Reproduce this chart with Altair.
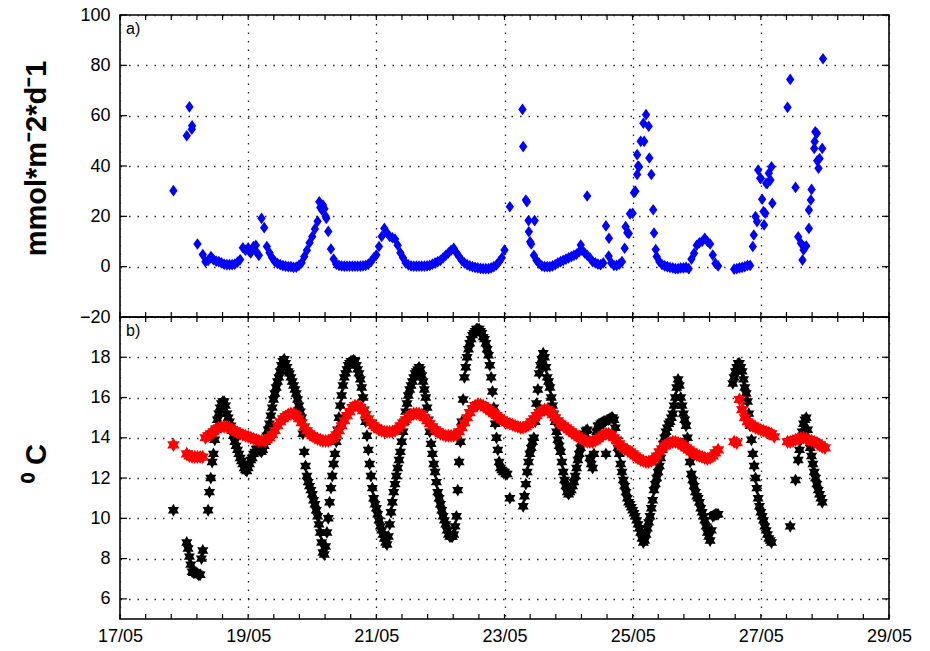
import altair as alt
import pandas as pd

# ---------------- data ----------------
# hourly samples start at 17/05 18:00; the half-hour rows start at 17/05 18:30
START_DAY = 17.75
STEP = 1.0 / 24.0

N = None
# a) flux, mmol m-2 d-1 (one value per hour, None = no sample)
blue_rows = [
    [N, N, 30.2, N, N, N],
    [N, 52.0, 63.5, 56.0, N, 9.0, N, 4.8, 2.0, 2.5, 3.5, 2.8, 2.2, 2.0, 1.5, 1.0, 0.8, 0.8, 0.8, 1.0, 1.8, 2.8, 7.5, 6.5],
    [7.5, 5.5, 8.0, 6.0, 4.5, 19.2, 15.5, 8.0, 5.5, 3.5, 2.0, 1.3, 0.8, 0.4, 0.2, 0.0, 0.0, -0.3, -0.2, 0.5, 1.5, 4.0, 6.5, 9.5],
    [12.0, 15.0, 18.0, 23.5, 24.5, 20.0, 14.0, 7.0, 3.0, 1.0, 0.5, 0.3, 0.2, 0.2, 0.2, 0.2, 0.2, 0.2, 0.2, 0.3, 0.5, 1.0, 2.0, 3.5],
    [4.6, 8.0, 12.0, 15.2, 13.5, 12.0, 11.5, 11.0, 8.5, 5.5, 3.5, 1.5, 0.7, 0.3, 0.2, 0.2, 0.2, 0.2, 0.2, 0.3, 0.5, 1.0, 1.5, 2.0],
    [2.5, 3.5, 4.5, 5.5, 6.5, 7.3, 5.5, 4.0, 2.5, 1.5, 0.8, 0.3, 0.0, -0.3, -0.5, -0.7, -0.8, -0.8, -0.8, -0.5, 0.0, 0.7, 2.0, 3.5],
    [6.6, N, 23.8, N, N, N, N, 47.7, 26.5, 18.3, 9.0, 4.5, 2.5, 1.3, 0.3, 0.0, 0.0, 0.0, 0.3, 0.8, 1.5, 2.0, 2.5, 3.0],
    [3.5, 4.0, 4.5, 5.0, 6.0, 6.5, 5.5, 4.5, 3.5, 2.0, 1.5, 1.0, 0.8, 1.5, 16.2, 4.2, 1.5, 0.5, 0.5, 1.0, 2.0, 7.3, 13.5, 21.0],
    [21.2, 30.0, 40.0, 49.8, 57.0, 60.4, 55.8, 36.6, 13.4, 4.0, 2.0, 0.8, 0.3, 0.0, -0.3, -0.5, -0.8, -0.8, -0.5, -0.5, -0.3, -0.8, 3.0, 5.3],
    [8.5, 9.5, 10.0, 11.3, 10.0, 9.0, 4.6, 1.3, 0.3, N, N, N, N, N, -1.0, -0.8, -0.5, -0.3, 0.0, 0.5, 0.5, 8.0, 19.9, 38.4],
    [35.1, 21.9, 33.1, 37.1, 39.7, N, N, N, N, N, 63.3, 74.4, N, 31.5, 11.9, 9.3, 6.6, 8.2, 15.2, 30.7, 47.0, 53.0, 43.0, 47.0],
    [N],
]
# extra (off-grid) flux samples
blue_extra_t = [18.12, 18.42, 19.02, 19.12, 20.11, 20.15, 20.19, 20.22,
                23.28, 23.35, 23.38, 23.40, 23.47, 24.19, 24.29, 24.63, 24.89, 24.94,
                25.02, 25.07, 25.07, 25.10, 25.18, 25.26, 25.32, 25.36,
                26.89, 26.94, 26.99, 27.02, 27.05, 27.07, 27.10, 27.15, 27.18,
                27.65, 27.67, 27.75, 27.78, 27.84, 27.85, 27.88, 27.90, 27.97]
blue_extra_v = [54.6, 4.0, 6.0, 8.5, 25.8, 22.5, 23.0, 19.2,
                62.5, 25.8, 13.9, 9.9, 18.3, 8.6, 28.1, 11.3, 15.9, 13.2,
                29.4, 36.6, 44.5, 39.7, 49.8, 43.2, 22.6, 6.8,
                12.6, 17.9, 35.1, 26.8, 16.6, 21.2, 33.1, 34.4, 25.2,
                2.6, 8.0, 22.5, 26.5, 49.7, 53.6, 42.1, 39.1, 82.6]

# b) temperature, black series (deg C), on the hour
black_rows = [
    [N, N, 10.4, N, N, N],
    [N, 8.8, 8.1, 7.35, 7.3, 7.25, 7.2, 8.4, N, 10.4, 12.0, 13.2, 14.4, 15.2, 15.7, 15.8, 15.2, 14.8, 14.35, 13.8, 13.4, 13.0, 12.7, 12.4],
    [12.5, 12.9, 13.2, 13.45, 13.4, 13.3, 13.6, 14.1, 14.7, 15.5, 16.2, 16.8, 17.3, 17.8, 17.7, 17.3, 17.0, 16.6, 16.2, 15.6, 15.0, 13.3, 12.1, 11.6],
    [11.2, 10.7, 10.1, 9.3, 8.3, 8.6, 10.0, 11.5, 12.7, 13.8, 15.0, 16.1, 17.0, 17.4, 17.7, 17.8, 17.8, 17.4, 16.9, 16.0, 14.8, 13.4, 12.1, 11.0],
    [10.5, 9.9, 9.4, 9.0, 8.7, 9.7, 10.8, 11.7, 12.5, 13.3, 14.3, 15.3, 16.1, 16.6, 17.0, 17.3, 17.5, 17.1, 16.4, 15.5, 14.3, 13.2, 12.3, 11.3],
    [10.7, 10.1, 9.7, 9.2, 9.1, 9.2, 10.1, 12.8, 14.8, 17.0, 18.0, 18.7, 19.1, 19.3, 19.4, 19.3, 19.0, 18.7, 18.1, 17.0, 15.5, 14.0, 12.8, 12.4],
    [12.3, 12.2, 11.0, N, N, N, N, 10.6, 11.7, 12.8, 13.5, 14.0, 15.7, 17.2, 17.9, 18.0, 17.0, 16.5, 15.6, 14.8, 13.9, 13.3, 12.3, 11.6],
    [11.2, 11.4, 11.8, 12.5, 13.2, 13.8, 14.2, 14.4, 13.0, 12.5, 13.9, 14.6, 14.7, 14.8, 13.2, 14.9, 15.0, 14.9, 13.9, 13.2, 12.3, 11.6, 11.0, 10.7],
    [10.4, 10.1, 9.7, 9.3, 8.8, 9.2, 9.8, 10.5, 11.4, 12.0, 12.6, 13.4, 14.0, 14.5, 14.8, 15.2, 16.0, 16.9, 16.0, 15.2, 14.6, 13.4, 12.2, 11.6],
    [11.1, 10.8, 10.3, 9.9, 9.3, 8.9, 10.1, 10.2, 10.2, N, N, N, N, N, 17.0, 17.5, 17.7, 17.3, 16.5, 15.8, 14.6, 13.2, 12.0, 11.0],
    [10.3, 9.9, 9.4, 9.0, 8.8, N, N, N, N, N, N, 9.6, N, 11.9, 12.9, 13.9, 14.7, 15.0, 13.9, 13.1, 12.3, 11.7, 11.2, 10.8],
    [N],
]
# b) temperature, black series (deg C), at half past the hour
black_half_rows = [
    [N, N, N, N, N, N],
    [N, 8.5, 7.7, 7.3, 7.3, 7.2, 8.0, N, N, 11.3, 12.8, 13.9, 14.9, 15.5, 15.8, 15.6, 15.0, 14.6, 14.1, 13.6, 13.2, 12.85, 12.5, 12.35],
    [12.7, 13.0, 13.3, 13.45, 13.35, 13.4, 13.8, 14.4, 15.1, 15.9, 16.5, 17.0, 17.6, 17.9, 17.5, 17.2, 16.8, 16.4, 15.9, 15.3, 14.2, 12.6, 11.8, 11.4],
    [10.9, 10.4, 9.7, 8.8, 8.2, 9.3, 10.8, 12.1, 13.2, 14.4, 15.6, 16.6, 17.2, 17.6, 17.8, 17.85, 17.6, 17.2, 16.5, 15.4, 14.1, 12.7, 11.5, 10.7],
    [10.2, 9.6, 9.2, 8.8, 9.1, 10.3, 11.3, 12.1, 12.9, 13.8, 14.8, 15.7, 16.4, 16.8, 17.2, 17.4, 17.4, 16.8, 16.0, 14.9, 13.7, 12.7, 11.8, 11.0],
    [10.4, 9.9, 9.4, 9.1, 9.1, 9.6, 11.4, 13.8, 15.9, 17.5, 18.4, 18.9, 19.2, 19.4, 19.4, 19.2, 18.9, 18.4, 17.6, 16.3, 14.7, 13.4, 12.5, 12.3],
    [12.2, N, N, N, N, N, N, 11.1, 12.3, 13.2, 13.8, 14.8, 16.4, 17.6, 18.2, 17.5, 16.8, 16.0, 15.2, 14.3, 13.6, 12.8, 11.9, 11.3],
    [11.3, 11.6, 12.1, 12.9, 13.5, 14.0, 14.35, N, 12.7, 13.2, 14.3, 14.6, 14.75, 14.8, N, 14.95, 15.0, 14.5, 13.5, 12.7, 11.9, 11.3, 10.8, 10.55],
    [10.25, 9.9, 9.5, 9.0, 8.9, 9.5, 10.1, 10.9, 11.7, 12.3, 13.0, 13.7, 14.3, 14.7, 15.0, 15.6, 16.5, 16.6, 15.6, 14.9, 14.0, 12.8, 11.9, 11.3],
    [11.0, 10.5, 10.1, 9.6, 9.1, 9.4, 10.15, 10.2, N, N, N, N, N, 16.7, 17.3, 17.7, 17.5, 16.9, 16.2, 15.2, 13.9, 12.6, 11.5, 10.6],
    [10.1, 9.6, 9.2, 8.9, N, N, N, N, N, N, N, N, N, N, 13.4, 14.3, 14.9, 14.4, 13.5, 12.7, 12.0, 11.4, 11.0, N],
]

# b) temperature, red series (deg C), on the hour
red_rows = [
    [N, N, 13.65, N, N, N],
    [N, 13.2, 13.1, 13.05, 13.05, 13.05, 13.05, 13.05, 14.0, 14.1, 14.2, 14.3, 14.45, 14.5, 14.55, 14.55, 14.55, 14.5, 14.4, 14.35, 14.25, 14.2, 14.15, 14.1],
    [14.05, 14.0, 13.95, 13.9, 13.85, 13.85, 13.85, 13.9, 14.0, 14.15, 14.35, 14.6, 14.8, 14.95, 15.05, 15.15, 15.2, 15.2, 15.1, 14.95, 14.75, 14.55, 14.35, 14.2],
    [14.1, 14.0, 13.95, 13.9, 13.85, 13.85, 13.85, 13.9, 14.0, 14.15, 14.35, 14.6, 14.85, 15.1, 15.3, 15.5, 15.6, 15.6, 15.5, 15.35, 15.15, 14.95, 14.75, 14.6],
    [14.5, 14.4, 14.35, 14.3, 14.3, 14.3, 14.3, 14.35, 14.45, 14.6, 14.75, 14.9, 15.05, 15.15, 15.2, 15.2, 15.2, 15.15, 15.0, 14.85, 14.7, 14.55, 14.4, 14.3],
    [14.2, 14.15, 14.1, 14.1, 14.1, 14.1, 14.15, 14.3, 14.5, 14.75, 15.0, 15.25, 15.45, 15.6, 15.65, 15.65, 15.6, 15.5, 15.4, 15.3, 15.2, 15.1, 15.0, 14.9],
    [14.8, 14.75, 14.7, 14.65, 14.6, 14.55, 14.5, 14.5, 14.55, 14.65, 14.8, 14.95, 15.1, 15.25, 15.35, 15.4, 15.4, 15.3, 15.15, 15.0, 14.85, 14.7, 14.6, 14.5],
    [14.4, 14.3, 14.2, 14.1, 14.0, 13.95, 13.85, 13.8, 13.8, 13.8, 13.85, 13.95, 14.05, 14.15, 14.2, 14.2, 14.15, 14.0, 13.85, 13.7, 13.55, 13.45, 13.4, 13.3],
    [13.2, 13.1, 13.0, 12.9, 12.85, 12.8, 12.8, 12.85, 12.95, 13.1, 13.3, 13.45, 13.6, 13.7, 13.75, 13.8, 13.8, 13.75, 13.7, 13.6, 13.5, 13.4, 13.3, 13.2],
    [13.15, 13.1, 13.05, 13.0, 12.95, 13.0, 13.1, 13.25, 13.4, N, N, N, N, N, 13.8, 13.75, 15.9, 15.4, 15.0, 14.8, 14.7, 14.6, 14.5, 14.45],
    [14.4, 14.35, 14.3, 14.25, 14.2, 14.05, N, N, N, N, 13.8, 13.8, 13.85, 13.9, 13.95, 14.0, 14.0, 13.95, 13.9, 13.85, 13.8, 13.75, 13.65, 13.55],
    [13.5],
]

x_major = [17, 19, 21, 23, 25, 27, 29]
y_top_ticks = [-20, 0, 20, 40, 60, 80, 100]
y_bot_ticks = [6, 8, 10, 12, 14, 16, 18]


def series(rows, offset=0.0):
    vals = [v for r in rows for v in r]
    t = [START_DAY + offset + i * STEP for i in range(len(vals))]
    return pd.DataFrame({"t": t, "v": vals}).dropna()


blue_df = pd.concat([series(blue_rows),
                     pd.DataFrame({"t": blue_extra_t, "v": blue_extra_v})])
black_df = pd.concat([series(black_rows), series(black_half_rows, STEP / 2)])
red_df = series(red_rows)

# ---------------- style ----------------
W, H = 769, 302
FONT = "Liberation Sans"
HEX = ("M0,-1L0.289,-0.5L0.866,-0.5L0.577,0L0.866,0.5L0.289,0.5L0,1L-0.289,0.5"
       "L-0.866,0.5L-0.577,0L-0.866,-0.5L-0.289,-0.5Z")
DIAM = "M0,-1L0.72,0L0,1L-0.72,0Z"

minor_ticks = pd.DataFrame({"t": [17 + 0.4 * i for i in range(31)]})
xscale = alt.Scale(domain=[17, 29], nice=False, zero=False)


def x_enc(show_labels):
    return alt.X("t:Q", scale=xscale, axis=alt.Axis(
        values=x_major, grid=True, labels=show_labels, ticks=False, tickSize=0,
        domain=False, title=None, labelExpr="datum.value + '/05'",
        labelFlush=False, labelOverlap=False, labelPadding=8, labelFontSize=18))


def y_enc(domain, ticks, title, title_y):
    return alt.Y("v:Q", scale=alt.Scale(domain=domain, nice=False, zero=False),
                 axis=alt.Axis(values=ticks, grid=True, ticks=False, tickSize=0,
                               domain=False, title=title, labelPadding=10,
                               minExtent=41, maxExtent=41, titlePadding=28,
                               titleY=title_y,
                               titleFontSize=29, titleFontWeight="bold",
                               labelFontSize=18, labelFlush=False,
                               labelOverlap=False))


def tick_layers(X, Y, ytick_vals):
    yt = pd.DataFrame({"v": ytick_vals})
    rule = dict(color="black", strokeWidth=1.2)
    return [
        alt.Chart(minor_ticks).mark_rule(**rule).encode(x=X, y=alt.value(H), y2=alt.value(H - 5)),
        alt.Chart(minor_ticks).mark_rule(**rule).encode(x=X, y=alt.value(0), y2=alt.value(5)),
        alt.Chart(yt).mark_rule(**rule).encode(y=Y, x=alt.value(0), x2=alt.value(7)),
        alt.Chart(yt).mark_rule(**rule).encode(y=Y, x=alt.value(W - 7), x2=alt.value(W)),
    ]


def panel_label(txt):
    return alt.Chart(pd.DataFrame({"lab": [txt]})).mark_text(
        align="left", baseline="top", fontSize=16, font=FONT, color="black"
    ).encode(x=alt.value(6), y=alt.value(6), text="lab:N")


# top panel
Xt = x_enc(False)
Yt = y_enc([-20, 100], y_top_ticks, "mmol*m\u207b2*d\u207b1", 143)
top = alt.layer(
    alt.Chart(blue_df).mark_point(shape=DIAM, filled=True, size=135, color="#0000ff", opacity=1)
    .encode(x=Xt, y=Yt),
    *tick_layers(Xt, Yt, y_top_ticks),
    panel_label("a)"),
).properties(width=W, height=H)

# bottom panel
Xb = x_enc(True)
Yb = y_enc([5, 20], y_bot_ticks, "\u2070 C", 146)
bottom = alt.layer(
    alt.Chart(black_df).mark_point(shape=HEX, filled=True, size=165, color="black", opacity=1)
    .encode(x=Xb, y=Yb),
    alt.Chart(red_df).mark_point(shape=HEX, filled=True, size=200, color="#ff0000", opacity=1)
    .encode(x=Xb, y=Yb),
    *tick_layers(Xb, Yb, y_bot_ticks),
    panel_label("b)"),
).properties(width=W, height=H)

chart = alt.vconcat(top, bottom, spacing=0, bounds="flush").properties(
    padding={"left": 21, "top": 5, "right": 5, "bottom": 5},
    background="white",
).configure_view(
    stroke="black", strokeWidth=1.6
).configure_axis(
    gridDash=[1.5, 7], gridColor="#222222", gridWidth=1.3, gridOpacity=1,
    labelFont=FONT, titleFont=FONT, labelColor="black", titleColor="black"
)

chart.save("out.html", embed_options={"renderer": "svg", "actions": False})
